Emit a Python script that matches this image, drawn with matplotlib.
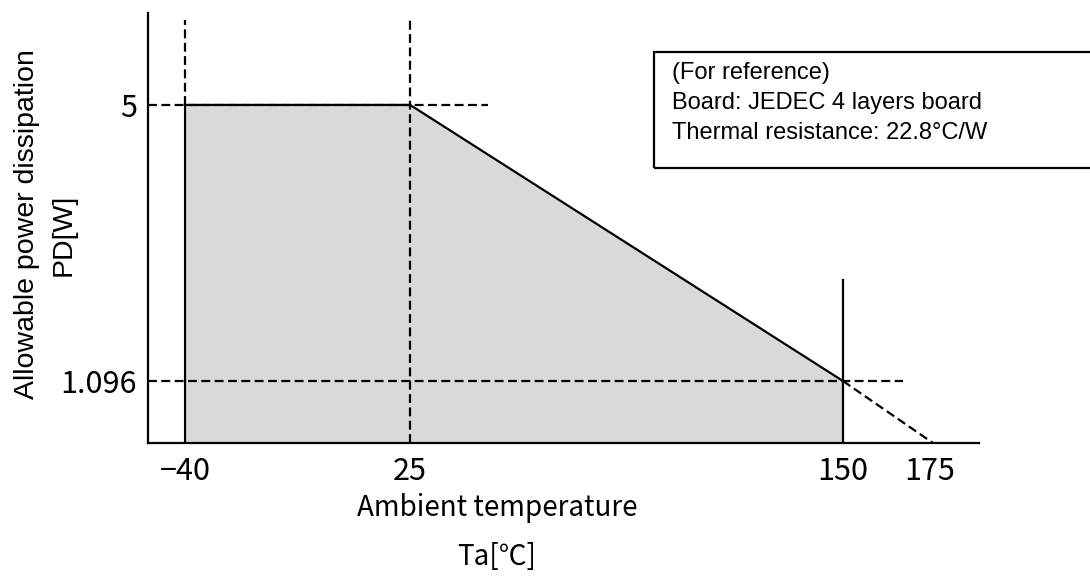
import matplotlib
matplotlib.use("Agg")
import matplotlib.pyplot as plt
from matplotlib.patches import Rectangle

# derating curve
temps = [-40, 25, 150]
pd_w = [5, 5, 1.096]
tj_max = 175

x_ticks = [-40, 25, 150, 175]
x_ticklabels = ["\u221240", "25", "150", "175"]
y_ticks = [5, 1.096]
y_ticklabels = ["5", "1.096"]

note_lines = ["(For reference)",
              "Board: JEDEC 4 layers board",
              "Thermal resistance: 22.8°C/W"]

jp_font = ["Noto Sans CJK JP", "DejaVu Sans"]
en_font = ["Liberation Sans", "DejaVu Sans"]

W, H = 1090, 584
fig = plt.figure(figsize=(W / 100, H / 100), dpi=100)
ax = fig.add_axes([148 / W, 1 - 443 / H, (979 - 148) / W, (443 - 13) / H])

xmin, xmax = -50.7, 189.3
ymin, ymax = 0.219, 6.30
ax.set_xlim(xmin, xmax)
ax.set_ylim(ymin, ymax)

# shaded area under the curve
ax.fill_between(temps, pd_w, ymin, color="#d9d9d9", lw=0, zorder=1)

dash = (0, (4, 2))
lw = 1.6

# guide lines (dashed)
ax.plot([xmin, 47.5], [pd_w[0], pd_w[0]], color="black", lw=lw, ls=dash, zorder=2)
ax.plot([xmin, 167.3], [pd_w[-1], pd_w[-1]], color="black", lw=lw, ls=dash, zorder=2)
ax.plot([temps[0], temps[0]], [pd_w[0], 6.2], color="black", lw=lw, ls=dash, zorder=2)
ax.plot([temps[1], temps[1]], [ymin, 6.2], color="black", lw=lw, ls=dash, zorder=2)

# extrapolation of the slope down to the axis
slope = (pd_w[2] - pd_w[1]) / (temps[2] - temps[1])
x_end = temps[2] + (ymin - pd_w[2]) / slope
x_end = min(x_end, tj_max + 1)
ax.plot([temps[2], x_end], [pd_w[2], ymin], color="black", lw=lw, ls=dash, zorder=2)

# solid outline of the curve
ax.plot([temps[0]] + temps, [ymin] + pd_w, color="black", lw=lw, zorder=3)
ax.plot([temps[2], temps[2]], [ymin, 2.52], color="black", lw=lw, zorder=3)

for side in ["top", "right"]:
    ax.spines[side].set_visible(False)
for side in ["left", "bottom"]:
    ax.spines[side].set_linewidth(1.6)

ax.set_xticks(x_ticks)
ax.set_xticklabels(x_ticklabels, family=jp_font, fontsize=22)
ax.set_yticks(y_ticks)
ax.set_yticklabels(y_ticklabels, family=jp_font, fontsize=22)
ax.tick_params(axis="x", length=0, pad=9)
ax.tick_params(axis="y", length=0, pad=8)

# axis titles
fig.text(497 / W, 1 - 508 / H, "Ambient temperature", family=jp_font, fontsize=20,
         ha="center", va="center")
fig.text(497 / W, 1 - 557 / H, "Ta[\u2103]", family=jp_font, fontsize=20,
         ha="center", va="center")
fig.text(27 / W, 1 - 224 / H, "Allowable power dissipation", family=en_font,
         fontsize=20.5, rotation=90, ha="center", va="center")
fig.text(64 / W, 1 - 235 / H, "PD[W]", family=en_font, fontsize=20.5,
         rotation=90, ha="center", va="center")

# note box
box = Rectangle((654 / W, 1 - 168 / H), (1100 - 654) / W, (168 - 52) / H,
                transform=fig.transFigure, fill=False, ec="black", lw=1.6,
                clip_on=False)
fig.patches.append(box)
for i, line in enumerate(note_lines):
    fig.text(672 / W, 1 - (73 + 30 * i) / H, line, family=en_font, fontsize=17,
             ha="left", va="center")

fig.savefig("out.png", dpi=100)
